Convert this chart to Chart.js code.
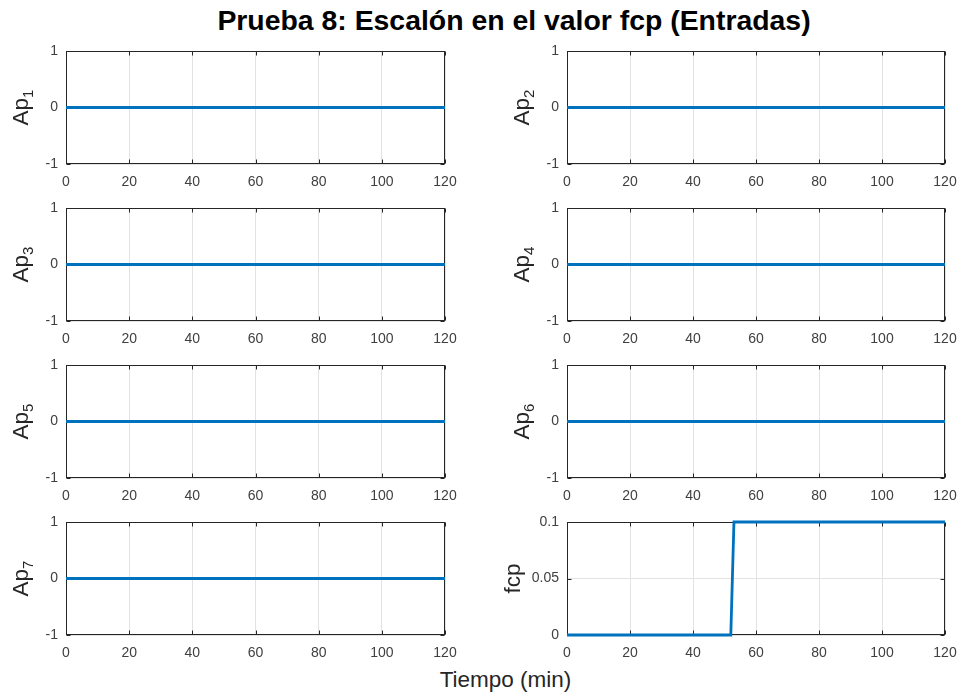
<!DOCTYPE html>
<html>
<head>
<meta charset="utf-8">
<script src="https://cdn.jsdelivr.net/npm/chart.js@4/dist/chart.umd.min.js"></script>
<style>
  html, body { margin: 0; padding: 0; background: #fff; }
  body { width: 960px; height: 695px; position: relative; overflow: hidden;
         font-family: "Liberation Sans", Arial, sans-serif; }
  .panel { position: absolute; }
  #titulo { position: absolute; left: 514px; top: 6px; transform: translateX(-50%);
            font-weight: bold; font-size: 28.4px; line-height: 28px; color: #000; white-space: nowrap; }
  #xlabel { position: absolute; left: 505.5px; top: 669px; transform: translateX(-50%);
            font-size: 22.5px; line-height: 22px; color: #262626; white-space: nowrap; }
</style>
</head>
<body>
<div id="titulo">Prueba 8: Escalón en el valor fcp (Entradas)</div>
<div id="xlabel">Tiempo (min)</div>

<script>
// --- Datos de las entradas (tiempo en minutos) ---
const tiempo    = [0, 120];
const ap1       = [0, 0];
const ap2       = [0, 0];
const ap3       = [0, 0];
const ap4       = [0, 0];
const ap5       = [0, 0];
const ap6       = [0, 0];
const ap7       = [0, 0];
const tiempoFcp = [0, 52, 53, 120];
const fcp       = [0, 0, 0.1, 0.1];

// --- Marcas de los ejes ---
const ticksTiempo     = [0, 20, 40, 60, 80, 100, 120];
const etiquetasTiempo = ['0', '20', '40', '60', '80', '100', '120'];
const ticksAp         = [-1, 0, 1];
const etiquetasAp     = ['-1', '0', '1'];
const ticksFcp        = [0, 0.05, 0.1];
const etiquetasFcp    = ['0', '0.05', '0.1'];

const AZUL = '#0072BD';
const EJE = '#262626';
const TEXTO = '#404040';
const REJILLA = '#e3e3e3';
const FUENTE = '"Liberation Sans", Arial, sans-serif';

// margins of each canvas around its plot area
const M_LEFT = 70, M_TOP = 12, M_RIGHT = 20, M_BOTTOM = 34;

const paneles = [
  { nombre: 'Ap', sub: '1', x: tiempo, y: ap1, col: 0, fila: 0 },
  { nombre: 'Ap', sub: '2', x: tiempo, y: ap2, col: 1, fila: 0 },
  { nombre: 'Ap', sub: '3', x: tiempo, y: ap3, col: 0, fila: 1 },
  { nombre: 'Ap', sub: '4', x: tiempo, y: ap4, col: 1, fila: 1 },
  { nombre: 'Ap', sub: '5', x: tiempo, y: ap5, col: 0, fila: 2 },
  { nombre: 'Ap', sub: '6', x: tiempo, y: ap6, col: 1, fila: 2 },
  { nombre: 'Ap', sub: '7', x: tiempo, y: ap7, col: 0, fila: 3 },
  { nombre: 'fcp', sub: '',  x: tiempoFcp, y: fcp, col: 1, fila: 3 }
];

const colIzq = [66, 567], colAncho = [379, 378];
const filaSup = [51, 208, 365, 522], filaAlto = 113;

// axes box with inward tick marks (drawn under the data line)
const cajaPlugin = {
  id: 'caja',
  beforeDatasetsDraw(chart) {
    const { ctx, chartArea: a, scales } = chart;
    ctx.save();
    ctx.strokeStyle = EJE;
    ctx.lineWidth = 1;
    const L = Math.round(a.left) + 0.5, R = Math.round(a.right) - 0.5;
    const T = Math.round(a.top) + 0.5, B = Math.round(a.bottom) - 0.5;
    ctx.strokeRect(L, T, R - L, B - T);
    const len = 4;
    ctx.beginPath();
    scales.x.ticks.forEach(t => {
      const px = Math.round(scales.x.getPixelForValue(t.value)) + 0.5;
      ctx.moveTo(px, B); ctx.lineTo(px, B - len);
      ctx.moveTo(px, T); ctx.lineTo(px, T + len);
    });
    scales.y.ticks.forEach(t => {
      const py = Math.round(scales.y.getPixelForValue(t.value)) + 0.5;
      ctx.moveTo(L, py); ctx.lineTo(L + len, py);
      ctx.moveTo(R, py); ctx.lineTo(R - len, py);
    });
    ctx.stroke();
    ctx.restore();
  }
};

// rotated y-axis title with optional subscript
const tituloYPlugin = {
  id: 'tituloY',
  afterDraw(chart, args, opts) {
    const { ctx, chartArea: a } = chart;
    ctx.save();
    ctx.fillStyle = EJE;
    ctx.textBaseline = 'alphabetic';
    ctx.textAlign = 'left';
    const fPrin = '22.5px ' + FUENTE, fSub = '15px ' + FUENTE;
    ctx.font = fPrin;
    const wPrin = ctx.measureText(opts.texto).width;
    ctx.font = fSub;
    const wSub = opts.sub ? ctx.measureText(opts.sub).width : 0;
    const total = wPrin + wSub;
    ctx.translate(a.left - opts.dist, (a.top + a.bottom) / 2);
    ctx.rotate(-Math.PI / 2);
    ctx.font = fPrin;
    ctx.fillText(opts.texto, -total / 2, 0);
    if (opts.sub) {
      ctx.font = fSub;
      ctx.fillText(opts.sub, -total / 2 + wPrin, 5);
    }
    ctx.restore();
  }
};

// keep the plot area exactly inside the layout padding
function sinDesborde(s) {
  s.paddingLeft = 0; s.paddingRight = 0; s.paddingTop = 0; s.paddingBottom = 0;
}

paneles.forEach(p => {
  const anchoPlot = colAncho[p.col];
  const div = document.createElement('div');
  div.className = 'panel';
  const w = anchoPlot + M_LEFT + M_RIGHT;
  const h = filaAlto + M_TOP + M_BOTTOM;
  div.style.left = (colIzq[p.col] - M_LEFT) + 'px';
  div.style.top = (filaSup[p.fila] - M_TOP) + 'px';
  div.style.width = w + 'px';
  div.style.height = h + 'px';
  const canvas = document.createElement('canvas');
  canvas.width = w; canvas.height = h;
  canvas.style.width = w + 'px'; canvas.style.height = h + 'px';
  div.appendChild(canvas);
  document.body.appendChild(div);

  const esFcp = p.nombre === 'fcp';
  const yTicks = esFcp ? ticksFcp : ticksAp;
  const yEtiq = esFcp ? etiquetasFcp : etiquetasAp;

  new Chart(canvas, {
    type: 'line',
    data: {
      datasets: [{
        data: p.x.map((t, i) => ({ x: t, y: p.y[i] })),
        borderColor: AZUL,
        borderWidth: 2.8,
        pointRadius: 0,
        tension: 0,
        fill: false,
        clip: 4
      }]
    },
    options: {
      responsive: false,
      animation: false,
      devicePixelRatio: 1,
      layout: { padding: { left: 0, top: M_TOP, right: M_RIGHT, bottom: 0 } },
      plugins: {
        legend: { display: false },
        tooltip: { enabled: false },
        tituloY: { texto: p.nombre, sub: p.sub, dist: esFcp ? 47 : 38 }
      },
      scales: {
        x: {
          type: 'linear',
          min: 0, max: 120,
          afterBuildTicks: s => { s.ticks = ticksTiempo.map(v => ({ value: v })); },
          afterFit: s => { s.height = M_BOTTOM; sinDesborde(s); },
          ticks: {
            callback: (v, i) => etiquetasTiempo[i],
            color: TEXTO, font: { family: FUENTE, size: 14 },
            padding: 10, maxRotation: 0, autoSkip: false
          },
          grid: { color: REJILLA, lineWidth: 1, drawTicks: false },
          border: { display: false }
        },
        y: {
          type: 'linear',
          min: yTicks[0], max: yTicks[yTicks.length - 1],
          afterBuildTicks: s => { s.ticks = yTicks.map(v => ({ value: v })); },
          afterFit: s => { s.width = M_LEFT; sinDesborde(s); },
          ticks: {
            callback: (v, i) => yEtiq[i],
            color: TEXTO, font: { family: FUENTE, size: 14 },
            padding: 8, autoSkip: false
          },
          grid: { color: REJILLA, lineWidth: 1, drawTicks: false },
          border: { display: false }
        }
      }
    },
    plugins: [cajaPlugin, tituloYPlugin]
  });
});
</script>
</body>
</html>
